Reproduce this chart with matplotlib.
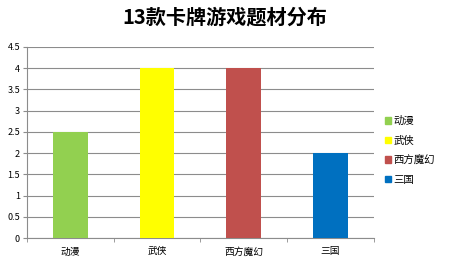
import matplotlib
matplotlib.use("Agg")
from matplotlib import pyplot as plt
from matplotlib.patches import Patch

plt.rcParams['font.family'] = ['Noto Sans CJK SC', 'DejaVu Sans']

# categories and counts
cats = ['动漫', '武侠', '西方魔幻', '三国']
vals = [2.5, 4, 4, 2]
colors = ['#92d050', '#ffff00', '#c0504d', '#0070c0']

fig = plt.figure(figsize=(4.5, 2.64), dpi=100)
ax = fig.add_axes([0.06, 0.098, 0.771, 0.724])

x = range(len(cats))
ax.bar(x, vals, width=0.4, color=colors, zorder=3)

ax.set_xlim(-0.5, 3.5)
ax.set_ylim(0, 4.5)
ax.set_yticks([0, 0.5, 1, 1.5, 2, 2.5, 3, 3.5, 4, 4.5])
ax.set_yticklabels(['0', '0.5', '1', '1.5', '2', '2.5', '3', '3.5', '4', '4.5'])
ax.yaxis.grid(True, color='#8c8c8c', linewidth=0.8, zorder=0)
ax.set_xticks(list(x))
ax.set_xticklabels(cats)
ax.set_xticks([-0.5, 0.5, 1.5, 2.5, 3.5], minor=True)
ax.tick_params(axis='x', which='major', length=0, labelsize=7, pad=6)
ax.tick_params(axis='x', which='minor', length=3, color='#8c8c8c')
ax.tick_params(axis='y', length=3, labelsize=6.5, color='#8c8c8c', pad=2)

for s in ['top', 'right']:
    ax.spines[s].set_visible(False)
for s in ['left', 'bottom']:
    ax.spines[s].set_color('#8c8c8c')
    ax.spines[s].set_linewidth(0.8)

fig.suptitle('13款卡牌游戏题材分布', fontsize=14.5, fontweight='bold', x=0.5, y=0.975)

handles = [Patch(color=c, label=l) for c, l in zip(colors, cats)]
fig.legend(handles=handles, loc='center left', bbox_to_anchor=(0.835, 0.43),
           frameon=False, fontsize=7.5, handlelength=0.6, handleheight=0.6,
           handletextpad=0.2, labelspacing=0.9)

fig.savefig('out.png', dpi=100)
